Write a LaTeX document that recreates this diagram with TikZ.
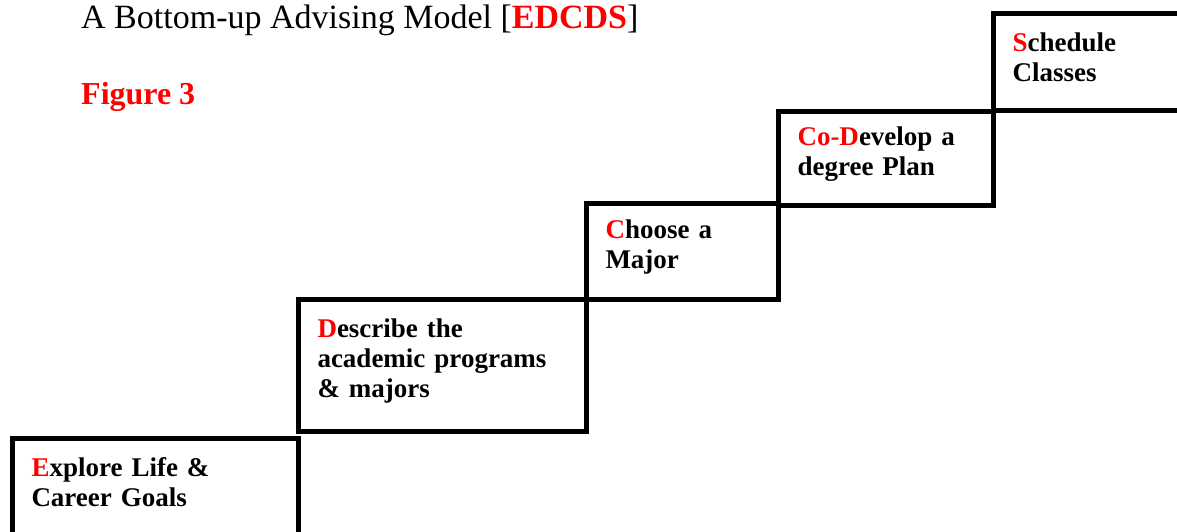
\documentclass[tikz,border=0pt]{standalone}
\usepackage{fontspec}
\setmainfont{Liberation Serif}

\begin{document}
\begin{tikzpicture}[x=1pt, y=-1pt,
  stepbox/.style={draw, line width=5pt, anchor=north west, inner xsep=19pt, inner ysep=0pt,
    align=left, font=\fontsize{27}{30}\selectfont\bfseries,
    execute at end node={\endgraf\vspace*{9pt}}}]
\useasboundingbox (0,0) rectangle (1177,531);

% titel
\node[anchor=base west, inner sep=0pt, font=\fontsize{34}{38}\selectfont] (title) at (81,28) {A Bottom-up Advising Model [\textcolor{red}{\textbf{EDCDS}}]};
\node[anchor=base west, inner sep=0pt, font=\fontsize{32}{36}\selectfont\bfseries, text=red] (figno) at (81,104) {Figure 3};

% stufen
\node[stepbox, text width=248pt, minimum height=97pt] (explore) at (10,436) {\textcolor{red}{E}xplore Life \&\\Career Goals};
\node[stepbox, text width=250pt, minimum height=132pt] (describe) at (296,297) {\textcolor{red}{D}escribe the\\academic programs\\\& majors};
\node[stepbox, text width=154pt, minimum height=96pt] (choose) at (584,201) {\textcolor{red}{C}hoose a\\Major};
\node[stepbox, text width=177pt, minimum height=94pt] (develop) at (776,109) {\textcolor{red}{Co-D}evelop a\\degree Plan};
\node[stepbox, text width=162pt, minimum height=97pt] (schedule) at (991,11) {\textcolor{red}{S}chedule\\Classes};
\end{tikzpicture}
\end{document}
